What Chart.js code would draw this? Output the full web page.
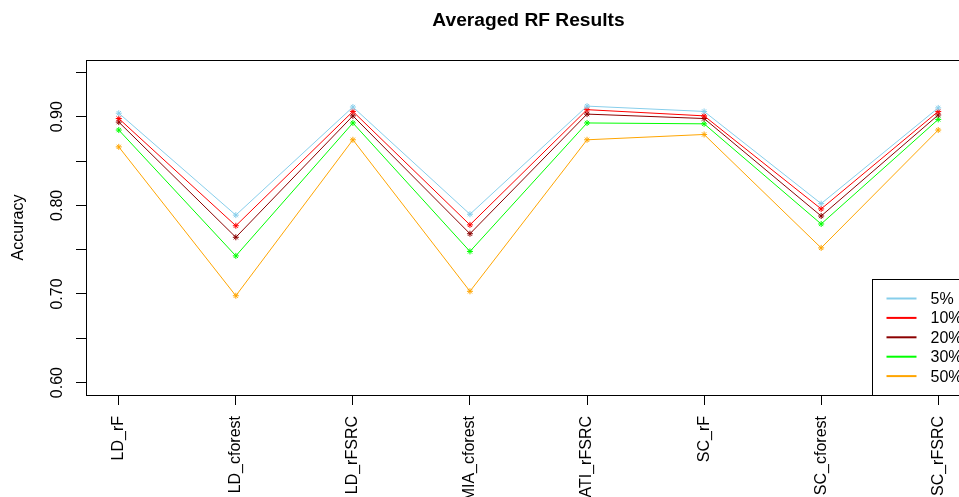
<!DOCTYPE html>
<html>
<head>
<meta charset="utf-8">
<script src="https://cdn.jsdelivr.net/npm/chart.js@4/dist/chart.umd.min.js"></script>
<style>
  html, body { margin: 0; padding: 0; background: #fff; overflow: hidden; }
  #frame { width: 959px; height: 497px; overflow: hidden; position: relative; }
  #chart { position: absolute; left: 0; top: 0; }
</style>
</head>
<body>
<div id="frame"><canvas id="chart" width="1000" height="540"></canvas></div>
<script>
// Methods compared (x axis)
const categories = ['LD_rF', 'LD_cforest', 'LD_rFSRC', 'MIA_cforest', 'ATI_rFSRC', 'SC_rF', 'SC_cforest', 'SC_rFSRC'];

// Averaged accuracy per missingness rate
const acc5  = [0.904, 0.789, 0.911, 0.790, 0.912, 0.906, 0.802, 0.910];
const acc10 = [0.898, 0.777, 0.906, 0.778, 0.908, 0.901, 0.796, 0.906];
const acc20 = [0.894, 0.764, 0.901, 0.768, 0.903, 0.898, 0.788, 0.902];
const acc30 = [0.885, 0.743, 0.893, 0.748, 0.893, 0.892, 0.779, 0.897];
const acc50 = [0.866, 0.698, 0.874, 0.703, 0.874, 0.880, 0.752, 0.885];

const seriesLabels = ['5%', '10%', '20%', '30%', '50%'];
const seriesColors = ['#87CEEB', '#FF0000', '#8B0000', '#00FF00', '#FFA500'];
const seriesValues = [acc5, acc10, acc20, acc30, acc50];

// Y axis ticks (labelled every 0.1)
const yTicks = [0.60, 0.65, 0.70, 0.75, 0.80, 0.85, 0.90, 0.95];
const yLimits = [0.60, 0.95];

const FONT = "'Liberation Sans', Arial, sans-serif";
const padFrac = 0.04;
const yRange = yLimits[1] - yLimits[0];
const xRange = categories.length - 1;

const datasets = seriesValues.map((vals, i) => ({
  label: seriesLabels[i],
  data: vals.map((v, j) => ({ x: j + 1, y: v })),
  borderColor: seriesColors[i],
  backgroundColor: seriesColors[i],
  borderWidth: 1,
  pointStyle: 'star',
  pointRadius: 3,
  pointBorderWidth: 1,
  pointBorderColor: seriesColors[i],
  tension: 0,
  fill: false
}));

// Box around the plotting region plus a bottom-right legend
const framePlugin = {
  id: 'frameAndLegend',
  afterDraw(chart) {
    const { ctx, chartArea: a } = chart;
    ctx.save();
    ctx.strokeStyle = '#000';
    ctx.lineWidth = 1;
    ctx.strokeRect(Math.round(a.left) + 0.5, Math.round(a.top) + 0.5,
                   Math.round(a.right - a.left), Math.round(a.bottom - a.top));

    const boxW = 99, boxH = 116;
    const bx = Math.round(a.right - boxW) + 0.5;
    const by = Math.round(a.bottom - boxH) + 0.5;
    ctx.fillStyle = '#fff';
    ctx.fillRect(bx, by, boxW, boxH);
    ctx.strokeRect(bx, by, boxW, boxH);

    ctx.font = '16px ' + FONT;
    ctx.textBaseline = 'middle';
    ctx.textAlign = 'left';
    chart.data.datasets.forEach((ds, i) => {
      const ry = by + 19 + i * 19.4;
      ctx.strokeStyle = ds.borderColor;
      ctx.lineWidth = 2;
      ctx.beginPath();
      ctx.moveTo(bx + 14, ry);
      ctx.lineTo(bx + 44, ry);
      ctx.stroke();
      ctx.fillStyle = '#000';
      ctx.fillText(ds.label, bx + 58, ry + 1);
    });
    ctx.restore();
  }
};

new Chart(document.getElementById('chart'), {
  type: 'line',
  data: { datasets },
  plugins: [framePlugin],
  options: {
    responsive: false,
    devicePixelRatio: 1,
    animation: false,
    layout: { padding: { left: 0, right: 29, top: 0, bottom: 0 } },
    plugins: {
      legend: { display: false },
      tooltip: { enabled: false },
      title: {
        display: true,
        text: 'Averaged RF Results',
        fullSize: false,
        color: '#000',
        font: { family: FONT, size: 19.2, weight: 'bold' },
        padding: { top: 9.5, bottom: 27.5 }
      }
    },
    scales: {
      x: {
        type: 'linear',
        min: 1 - xRange * padFrac,
        max: categories.length + xRange * padFrac,
        afterBuildTicks: s => { s.ticks = categories.map((c, i) => ({ value: i + 1 })); },
        afterFit: s => { s.height = 145; },
        border: { display: false },
        grid: { display: true, drawOnChartArea: false, drawTicks: true, tickLength: 10, color: '#000' },
        ticks: {
          autoSkip: false,
          minRotation: 90,
          maxRotation: 90,
          padding: 11,
          color: '#000',
          font: { family: FONT, size: 16 },
          callback: v => categories[Math.round(v) - 1] ?? ''
        }
      },
      y: {
        type: 'linear',
        min: yLimits[0] - yRange * padFrac,
        max: yLimits[1] + yRange * padFrac,
        afterBuildTicks: s => { s.ticks = yTicks.map(v => ({ value: v })); },
        afterFit: s => { s.width = 86; },
        border: { display: false },
        grid: { display: true, drawOnChartArea: false, drawTicks: true, tickLength: 10, color: '#000' },
        title: {
          display: true,
          text: 'Accuracy',
          color: '#000',
          font: { family: FONT, size: 16 },
          padding: { top: 9, bottom: 0 }
        },
        ticks: {
          minRotation: 90,
          maxRotation: 90,
          crossAlign: 'center',
          padding: 3,
          color: '#000',
          font: { family: FONT, size: 16 },
          callback: v => (Math.round(v * 100) % 10 === 0 ? v.toFixed(2) : '')
        }
      }
    }
  }
});
</script>
</body>
</html>
